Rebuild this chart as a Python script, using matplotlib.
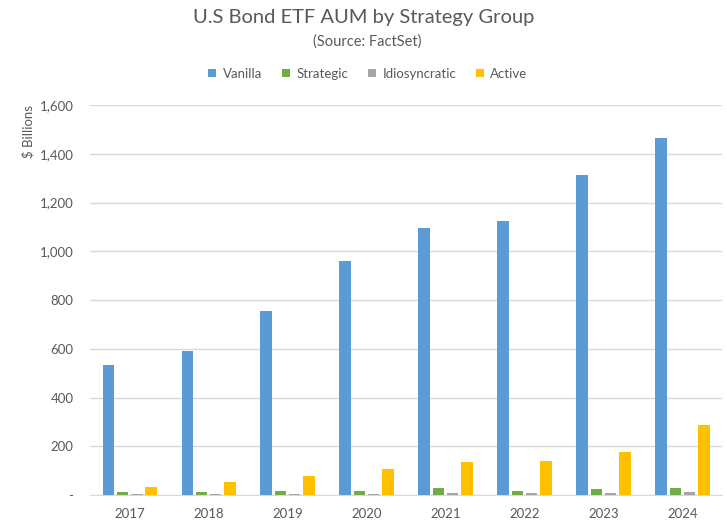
import matplotlib

matplotlib.use("Agg")
import matplotlib.pyplot as plt
import numpy as np
from matplotlib.ticker import FuncFormatter

years = ["2017", "2018", "2019", "2020", "2021", "2022", "2023", "2024"]
series_names = ["Vanilla", "Strategic", "Idiosyncratic", "Active"]
vanilla = [533, 590, 754, 959, 1095, 1123, 1312, 1464]
strategic = [14, 14, 15, 18, 30, 18, 26, 30]
idiosyncratic = [4, 4, 4, 5, 10, 10, 10, 14]
active = [34, 55, 79, 108, 137, 141, 178, 288]
colors = ["#5B9BD5", "#70AD47", "#A5A5A5", "#FFC000"]
text_color = "#595959"

plt.rcParams["font.family"] = ["Lato", "DejaVu Sans"]

fig = plt.figure(figsize=(7.27, 5.28), dpi=100)
ax = fig.add_axes([0.124, 0.0625, 0.869, 0.7385])

x = np.arange(len(years))
width = 0.146
pitch = 0.18
for i, (name, vals) in enumerate(zip(series_names, [vanilla, strategic, idiosyncratic, active])):
    offset = (i - 1.5) * pitch
    ax.bar(x + offset, vals, width=width, color=colors[i], label=name, zorder=3)

ax.set_xlim(-0.5, len(years) - 0.5)
ax.set_ylim(0, 1600)
ax.set_yticks(np.arange(0, 1601, 200))
ax.yaxis.set_major_formatter(FuncFormatter(lambda v, _: "-" if v == 0 else f"{v:,.0f}"))
ax.set_xticks(x)
ax.set_xticklabels(years)
ax.grid(axis="y", color="#D9D9D9", linewidth=1, zorder=0)
for s in ["top", "right", "left"]:
    ax.spines[s].set_visible(False)
ax.spines["bottom"].set_color("#D9D9D9")
ax.tick_params(axis="both", length=0, colors=text_color, labelsize=9.5)
ax.tick_params(axis="y", pad=12)
ax.tick_params(axis="x", pad=9)
ax.set_ylabel("$ Billions", color=text_color, fontsize=9.5, loc="top", labelpad=4)

fig.text(0.5, 0.967, "U.S Bond ETF AUM by Strategy Group", ha="center", va="center",
         fontsize=14.5, color=text_color)
fig.text(0.505, 0.922, "(Source: FactSet)", ha="center", va="center",
         fontsize=10.5, color=text_color)
fig.legend(loc="center", bbox_to_anchor=(0.506, 0.86), ncol=4, frameon=False,
           handlelength=0.6, handleheight=0.6, handletextpad=0.5, columnspacing=1.5,
           fontsize=9.5, labelcolor=text_color)

fig.savefig("out.png", dpi=100)
